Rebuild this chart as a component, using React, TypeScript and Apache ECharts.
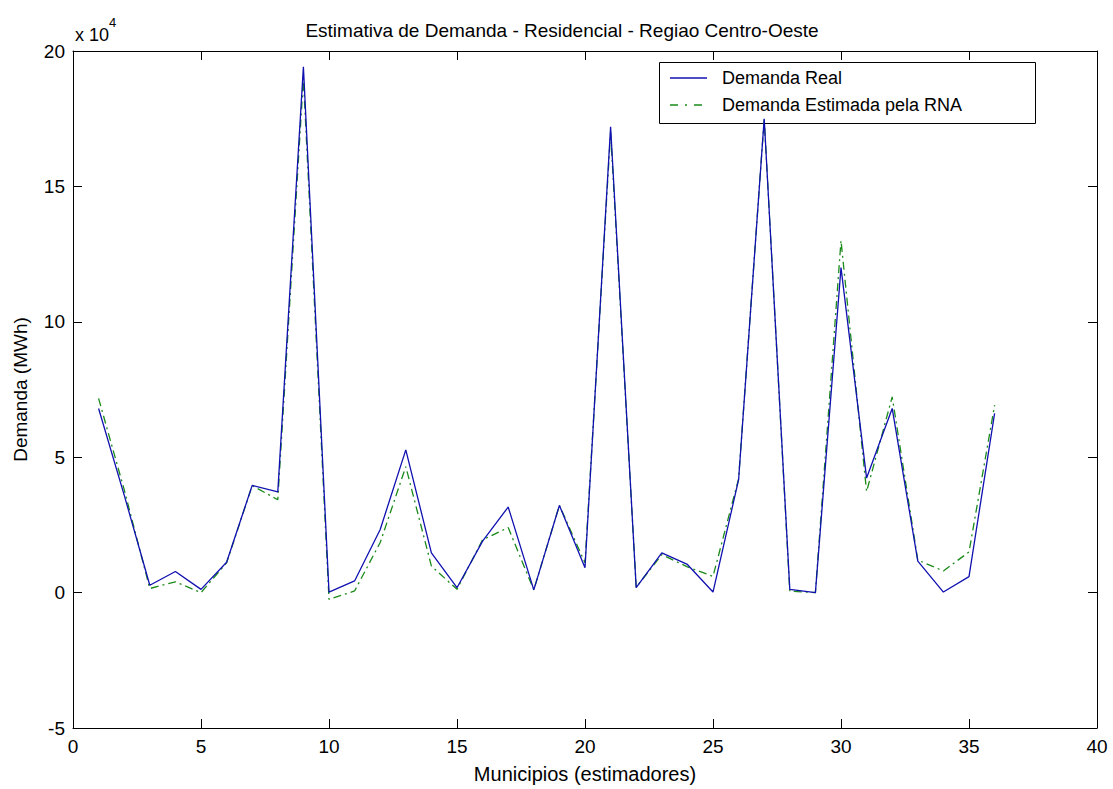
import React, { useEffect, useRef } from "react";
import * as echarts from "echarts";

const municipios = Array.from({ length: 36 }, (_, i) => i + 1);
const demandaReal = [
  68000, 36000, 2700, 7800, 1200, 11200, 39600, 37200, 194200, 200,
  4300, 23300, 52700, 14700, 1800, 19000, 31600, 1000, 32200, 9200,
  172000, 1800, 14700, 10400, 200, 41700, 175000, 1200, 0, 120000,
  42300, 68000, 11600, 200, 5900, 66200,
];
const demandaEstimada = [
  71700, 38000, 1500, 4000, 0, 11000, 39500, 34300, 190000, -2500,
  600, 18500, 46500, 9800, 1200, 19500, 24000, 1000, 32200, 11000,
  170000, 2000, 14000, 9500, 6000, 42000, 175000, 500, 0, 130000,
  37300, 72300, 12000, 8000, 15000, 69200,
];
const seriesNames = ["Demanda Real", "Demanda Estimada pela RNA"];
const xTicks = [0, 5, 10, 15, 20, 25, 30, 35, 40];
const yTicks = [-5, 0, 5, 10, 15, 20];

const FONT = "Liberation Sans, Arial, sans-serif";
const BLUE = "#1010b0";
const GREEN = "#1a8a1a";

export default function App() {
  const ref = useRef<HTMLDivElement>(null);
  useEffect(() => {
    if (!ref.current) return;
    const chart = echarts.init(ref.current, null, { renderer: "svg" });
    const tickStyle = { inside: true, length: 9, lineStyle: { color: "#000", width: 1 } };
    const axisLine = { show: true, onZero: false, lineStyle: { color: "#000", width: 1 } };
    chart.setOption({
      animation: false,
      backgroundColor: "#fff",
      textStyle: { fontFamily: FONT },
      title: {
        text: "Estimativa de Demanda - Residencial - Regiao Centro-Oeste",
        left: 557,
        textAlign: "center",
        top: 16,
        textStyle: { fontSize: 19, fontWeight: "normal", color: "#000", fontFamily: FONT },
      },
      grid: { left: 73, right: 16, top: 51, bottom: 59 },
      xAxis: [
        {
          type: "value",
          min: 0,
          max: 40,
          interval: 5,
          position: "bottom",
          axisLine,
          axisTick: tickStyle,
          splitLine: { show: false },
          axisLabel: { fontSize: 19, color: "#000", margin: 9, fontFamily: FONT },
          name: "Municipios (estimadores)",
          nameLocation: "middle",
          nameGap: 36,
          nameTextStyle: { fontSize: 20, color: "#000", fontFamily: FONT },
        },
        {
          type: "value",
          min: 0,
          max: 40,
          interval: 5,
          position: "top",
          axisLine,
          axisTick: tickStyle,
          splitLine: { show: false },
          axisLabel: { show: false },
        },
      ],
      yAxis: [
        {
          type: "value",
          min: -50000,
          max: 200000,
          interval: 50000,
          position: "left",
          axisLine,
          axisTick: tickStyle,
          splitLine: { show: false },
          axisLabel: {
            fontSize: 19,
            color: "#000",
            margin: 8,
            fontFamily: FONT,
            formatter: (v: number) => String(Math.round(v / 10000)),
          },
          name: "Demanda (MWh)",
          nameLocation: "middle",
          nameGap: 43,
          nameRotate: 90,
          nameTextStyle: { fontSize: 19, color: "#000", fontFamily: FONT },
        },
        {
          type: "value",
          min: -50000,
          max: 200000,
          interval: 50000,
          position: "right",
          axisLine,
          axisTick: tickStyle,
          splitLine: { show: false },
          axisLabel: { show: false },
        },
      ],
      graphic: [
        {
          type: "text",
          left: 75,
          top: 26,
          style: { text: "x 10", fontSize: 18, fill: "#000", fontFamily: FONT },
        },
        {
          type: "text",
          left: 109,
          top: 16,
          style: { text: "4", fontSize: 13, fill: "#000", fontFamily: FONT },
        },
        {
          type: "group",
          z: 100,
          children: [
            {
              type: "rect",
              shape: { x: 659.5, y: 62.5, width: 376, height: 61 },
              style: { fill: "#fff", stroke: "#000", lineWidth: 1 },
            },
            {
              type: "line",
              shape: { x1: 670, y1: 78, x2: 707, y2: 78 },
              style: { stroke: BLUE, lineWidth: 1.3 },
            },
            {
              type: "line",
              shape: { x1: 670, y1: 105, x2: 707, y2: 105 },
              style: { stroke: GREEN, lineWidth: 1.3, lineDash: [8, 7, 2, 7] },
            },
            {
              type: "text",
              x: 722,
              y: 78,
              style: {
                text: seriesNames[0],
                fontSize: 18,
                fill: "#000",
                fontFamily: FONT,
                verticalAlign: "middle",
              },
            },
            {
              type: "text",
              x: 722,
              y: 105,
              style: {
                text: seriesNames[1],
                fontSize: 18,
                fill: "#000",
                fontFamily: FONT,
                verticalAlign: "middle",
              },
            },
          ],
        },
      ],
      series: [
        {
          name: seriesNames[0],
          type: "line",
          data: municipios.map((m, i) => [m, demandaReal[i]]),
          showSymbol: false,
          symbol: "none",
          lineStyle: { color: BLUE, width: 1.3 },
          itemStyle: { color: BLUE },
          z: 3,
        },
        {
          name: seriesNames[1],
          type: "line",
          data: municipios.map((m, i) => [m, demandaEstimada[i]]),
          showSymbol: false,
          symbol: "none",
          lineStyle: { color: GREEN, width: 1.3, type: [8, 4, 2, 4] },
          itemStyle: { color: GREEN },
          z: 2,
        },
      ],
    });
    return () => chart.dispose();
  }, []);
  return (
    <div
      ref={ref}
      style={{ position: "fixed", left: 0, top: 0, width: 1113, height: 789 }}
    />
  );
}
